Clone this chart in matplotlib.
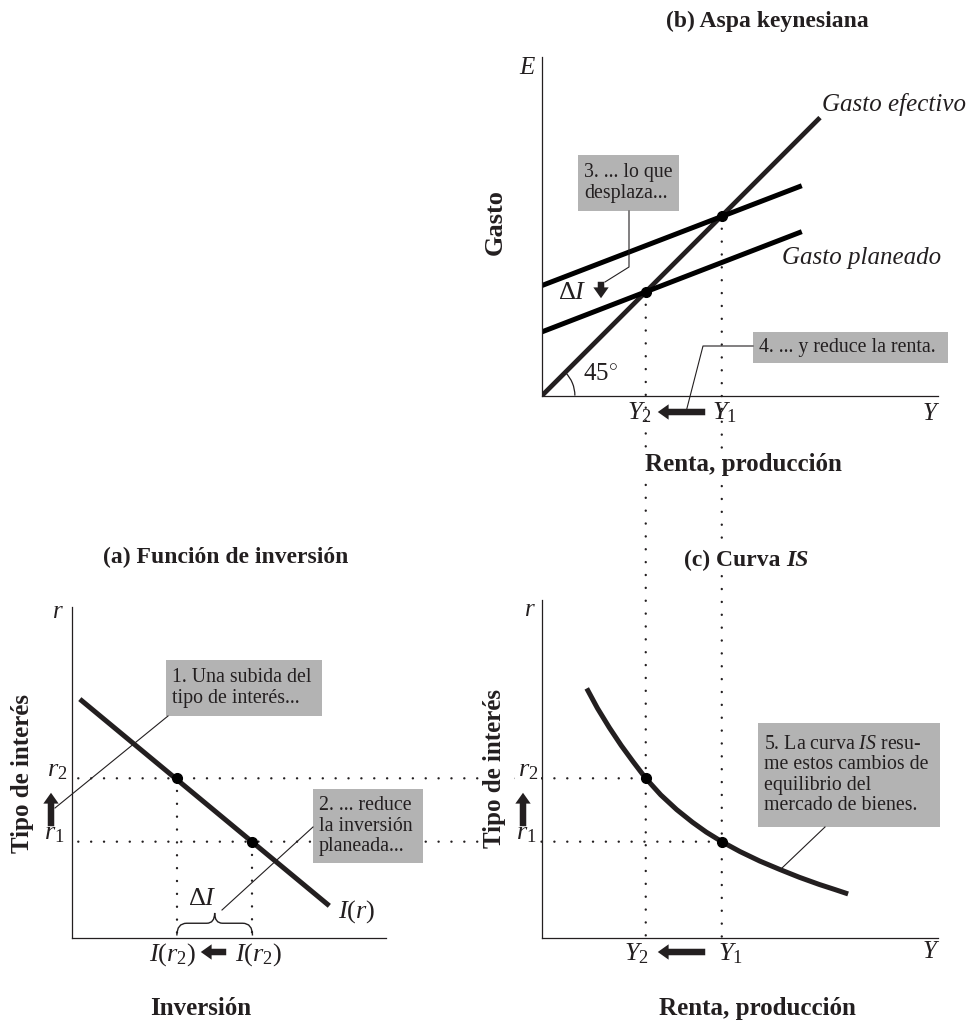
import numpy as np
import matplotlib
matplotlib.use("Agg")
import matplotlib.pyplot as plt
from matplotlib.patches import Arc, FancyArrowPatch, ConnectionPatch, PathPatch, Rectangle
from matplotlib.path import Path
from matplotlib.lines import Line2D

plt.rcParams['font.family'] = ['Liberation Serif', 'DejaVu Serif']
plt.rcParams['mathtext.fontset'] = 'custom'
plt.rcParams['mathtext.rm'] = 'Liberation Serif'
plt.rcParams['mathtext.it'] = 'Liberation Serif:italic'
plt.rcParams['mathtext.bf'] = 'Liberation Serif:bold'

# ---- data (units: all panels share one scale) ----
# (b) Keynesian cross
actual_x = [0.0, 7.02]
actual_e = [0.0, 7.02]
planned_x = [0.0, 6.56]
planned_high = [2.78, 5.30]   # before the shift
planned_low = [1.61, 4.14]    # after the shift
Y1, Y2 = 4.54, 2.62

# (a) investment function
inv_x = [0.19, 6.49]
inv_r = [6.02, 0.80]
r1, r2 = 2.42, 4.02
I1, I2 = 4.55, 2.64

# (c) IS curve
is_y = [1.13, 1.40, 1.70, 2.00, 2.30, 2.62, 3.00, 3.40, 3.80, 4.15, 4.54,
        5.00, 5.50, 6.00, 6.50, 7.00, 7.40, 7.73]
is_r = [6.29, 5.79, 5.30, 4.85, 4.44, 4.02, 3.60, 3.23, 2.91, 2.66, 2.42,
        2.17, 1.93, 1.72, 1.52, 1.34, 1.21, 1.10]

W, H = 969, 1021
INK = '#231f20'
BOX = '#b3b3b3'
DOT = dict(color=INK, lw=1.7, linestyle=(0, (0.05, 5.4)), dash_capstyle='round')
DOT_P = dict(color=INK, lw=1.7, linestyle=(0, (0.05, 5.4)), capstyle='round')


def fx(x):
    return x / W


def fy(y):
    return 1 - y / H


def axes_px(left, top, right, bottom):
    ax = fig.add_axes([fx(left), fy(bottom), (right - left) / W, (bottom - top) / H])
    ax.set_xlim(0, (right - left) / 39.6)
    ax.set_ylim(0, (bottom - top) / 39.6)
    for s in ['top', 'right']:
        ax.spines[s].set_visible(False)
    for s in ['left', 'bottom']:
        ax.spines[s].set_linewidth(0.9)
        ax.spines[s].set_color(INK)
    ax.set_xticks([])
    ax.set_yticks([])
    ax.patch.set_visible(False)
    return ax


def txt(x, y, s, **kw):
    kw.setdefault('ha', 'center')
    kw.setdefault('va', 'center')
    return fig.text(fx(x), fy(y), s, color=INK, **kw)


def box(x0, y0, x1, y1, s):
    fig.add_artist(Rectangle((fx(x0), fy(y1)), (x1 - x0) / W, (y1 - y0) / H,
                             transform=fig.transFigure, fc=BOX, ec='none', zorder=3))
    fig.text(fx(x0 + 6), fy((y0 + y1) / 2), s, color=INK, fontsize=14.3, ha='left',
             va='center', multialignment='left', linespacing=1.08, zorder=4)


def leader(xs, ys):
    fig.add_artist(Line2D([fx(v) for v in xs], [fy(v) for v in ys],
                          transform=fig.transFigure, color=INK, lw=0.8, zorder=4))


def arrow(x0, y0, x1, y1):
    fig.add_artist(FancyArrowPatch((fx(x0), fy(y0)), (fx(x1), fy(y1)),
                                   transform=fig.transFigure,
                                   arrowstyle='simple,head_length=0.6,head_width=0.85,tail_width=0.36',
                                   mutation_scale=13, color=INK, lw=0, zorder=4))


fig = plt.figure(figsize=(W / 100, H / 100), dpi=100)

ax_b = axes_px(542, 57, 938, 395.6)
ax_a = axes_px(72.3, 607, 385.7, 937.5)
ax_c = axes_px(542, 600, 938, 937.5)

# ---- panel (b) ----
ax_b.plot(actual_x, actual_e, color=INK, lw=3.4, solid_capstyle='butt')
ax_b.plot(planned_x, planned_high, color='black', lw=3.6, solid_capstyle='butt')
ax_b.plot(planned_x, planned_low, color='black', lw=3.6, solid_capstyle='butt')
ax_b.plot([Y2, Y1], [Y2, Y1], 'o', color='black', ms=7, zorder=5)
ax_b.add_patch(Arc((0, 0), 2 * 0.83, 2 * 0.83, theta1=0, theta2=45, color=INK, lw=0.9))
ax_b.text(1.03, 0.55, r'45$^{\circ}$', fontsize=18, color=INK, ha='left', va='center')

# ---- panel (a) ----
ax_a.plot(inv_x, inv_r, color=INK, lw=3.6, solid_capstyle='butt')
ax_a.plot([I2, I1], [r2, r1], 'o', color='black', ms=7, zorder=5)
for xv, rv in [(I2, r2), (I1, r1)]:
    ax_a.plot([xv, xv], [rv, 0], **DOT)
# brace under delta I
xm = (I1 + I2) / 2
by, bt, bb = 0.36, 0.62, 0.05
verts = [(I2, bb), (I2, by), (I2 + 0.25, by), (xm - 0.2, by), (xm, by), (xm, bt),
         (xm, by), (xm + 0.2, by), (I1 - 0.25, by), (I1, by), (I1, bb)]
codes = [Path.MOVETO, Path.CURVE3, Path.CURVE3, Path.LINETO, Path.CURVE3, Path.CURVE3,
         Path.CURVE3, Path.CURVE3, Path.LINETO, Path.CURVE3, Path.CURVE3]
ax_a.add_patch(PathPatch(Path(verts, codes), fc='none', ec=INK, lw=1.0))

# ---- panel (c) ----
ax_c.plot(is_y, is_r, color=INK, lw=3.6, solid_capstyle='butt', solid_joinstyle='round')
ax_c.plot([Y2, Y1], [r2, r1], 'o', color='black', ms=7, zorder=5)

# ---- dotted guides across panels ----
for yv in [Y2, Y1]:
    con = ConnectionPatch(xyA=(yv, yv), coordsA=ax_b.transData,
                          xyB=(yv, 0), coordsB=ax_c.transData, **DOT_P)
    con.set_zorder(-1)
    fig.add_artist(con)
for rv, yv in [(r2, Y2), (r1, Y1)]:
    con = ConnectionPatch(xyA=(0.15, rv), coordsA=ax_a.transData,
                          xyB=(yv, rv), coordsB=ax_c.transData, **DOT_P)
    con.set_zorder(-1)
    fig.add_artist(con)

white = dict(boxstyle='square,pad=0.1', fc='white', ec='none')

# ---- titles and axis labels ----
txt(767, 21, '(b) Aspa keynesiana', fontsize=17, fontweight='bold')
txt(226, 557, '(a) Función de inversión', fontsize=17, fontweight='bold')
txt(781, 560, '(c) Curva', fontsize=17, fontweight='bold', ha='right', bbox=white)
txt(786, 560, 'IS', fontsize=17, fontweight='bold', style='italic', ha='left', bbox=white)

txt(495, 222, 'Gasto', fontsize=19, fontweight='bold', rotation=90)
txt(23, 773, 'Tipo de interés', fontsize=18, fontweight='bold', rotation=90)
txt(495, 768, 'Tipo de interés', fontsize=18, fontweight='bold', rotation=90, bbox=white)

txt(743, 464, 'Renta, producción', fontsize=18, fontweight='bold', bbox=white)
txt(201, 1008, 'Inversión', fontsize=18, fontweight='bold')
txt(757, 1008, 'Renta, producción', fontsize=18, fontweight='bold')

# axis end letters
txt(527, 68, 'E', fontsize=18, style='italic')
txt(930, 414, 'Y', fontsize=18, style='italic')
txt(58, 612, 'r', fontsize=18, style='italic')
txt(530, 610, 'r', fontsize=18, style='italic')
txt(930, 952, 'Y', fontsize=18, style='italic')

# curve labels
txt(822, 105, 'Gasto efectivo', fontsize=18, style='italic', ha='left')
txt(782, 258, 'Gasto planeado', fontsize=18, style='italic', ha='left')
txt(338, 912, r'$I(r)$', fontsize=19, ha='left')
txt(572, 293, r'$\Delta I$', fontsize=19)
txt(202, 899, r'$\Delta I$', fontsize=19)

# tick-like labels
lab = dict(fontsize=19, color=INK, textcoords='offset pixels', va='baseline')
ax_b.annotate(r'$Y_2$', (Y2, 0), xytext=(6, -24), ha='right', **lab)
ax_b.annotate(r'$Y_1$', (Y1, 0), xytext=(-10, -24), ha='left', **lab)
ax_c.annotate(r'$Y_2$', (Y2, 0), xytext=(3, -23), ha='right', **lab)
ax_c.annotate(r'$Y_1$', (Y1, 0), xytext=(-4, -23), ha='left', **lab)
ax_a.annotate(r'$r_2$', (0, r2), xytext=(-5, 2), ha='right', **lab)
ax_a.annotate(r'$r_1$', (0, r1), xytext=(-8, 2), ha='right', **lab)
ax_c.annotate(r'$r_2$', (0, r2), xytext=(-4, 2), ha='right', bbox=white, **lab)
ax_c.annotate(r'$r_1$', (0, r1), xytext=(-6, 2), ha='right', bbox=white, **lab)
ax_a.annotate(r'$I(r_2)$', (I2, 0), xytext=(20, -23), ha='right', **lab)
ax_a.annotate(r'$I(r_2)$', (I1, 0), xytext=(-17, -23), ha='left', **lab)

# thick arrows
arrow(708, 412, 655, 412)
arrow(708, 952, 655, 952)
arrow(229, 952, 198, 952)
arrow(51, 829, 51, 790)
arrow(523, 829, 523, 790)
arrow(601, 279, 601, 301)

# annotation boxes and leaders
box(578, 155, 679, 211, '3. ... lo que\ndesplaza...')
leader([629, 629, 605], [211, 267, 282])
box(753, 332, 948, 363, '4. ... y reduce la renta.')
leader([753, 703, 686], [346, 346, 412])
box(166, 660, 322, 716, '1. Una subida del\ntipo de interés...')
leader([168, 55], [716, 808])
box(313, 789, 423, 863, '2. ... reduce\nla inversión\nplaneada...')
leader([313, 222], [827, 910])
box(758, 723, 940, 827, '5. La curva $\\mathit{IS}$ resu-\nme estos cambios de\nequilibrio del\nmercado de bienes.')
leader([825, 782], [827, 868])

fig.savefig('out.png', dpi=100)
